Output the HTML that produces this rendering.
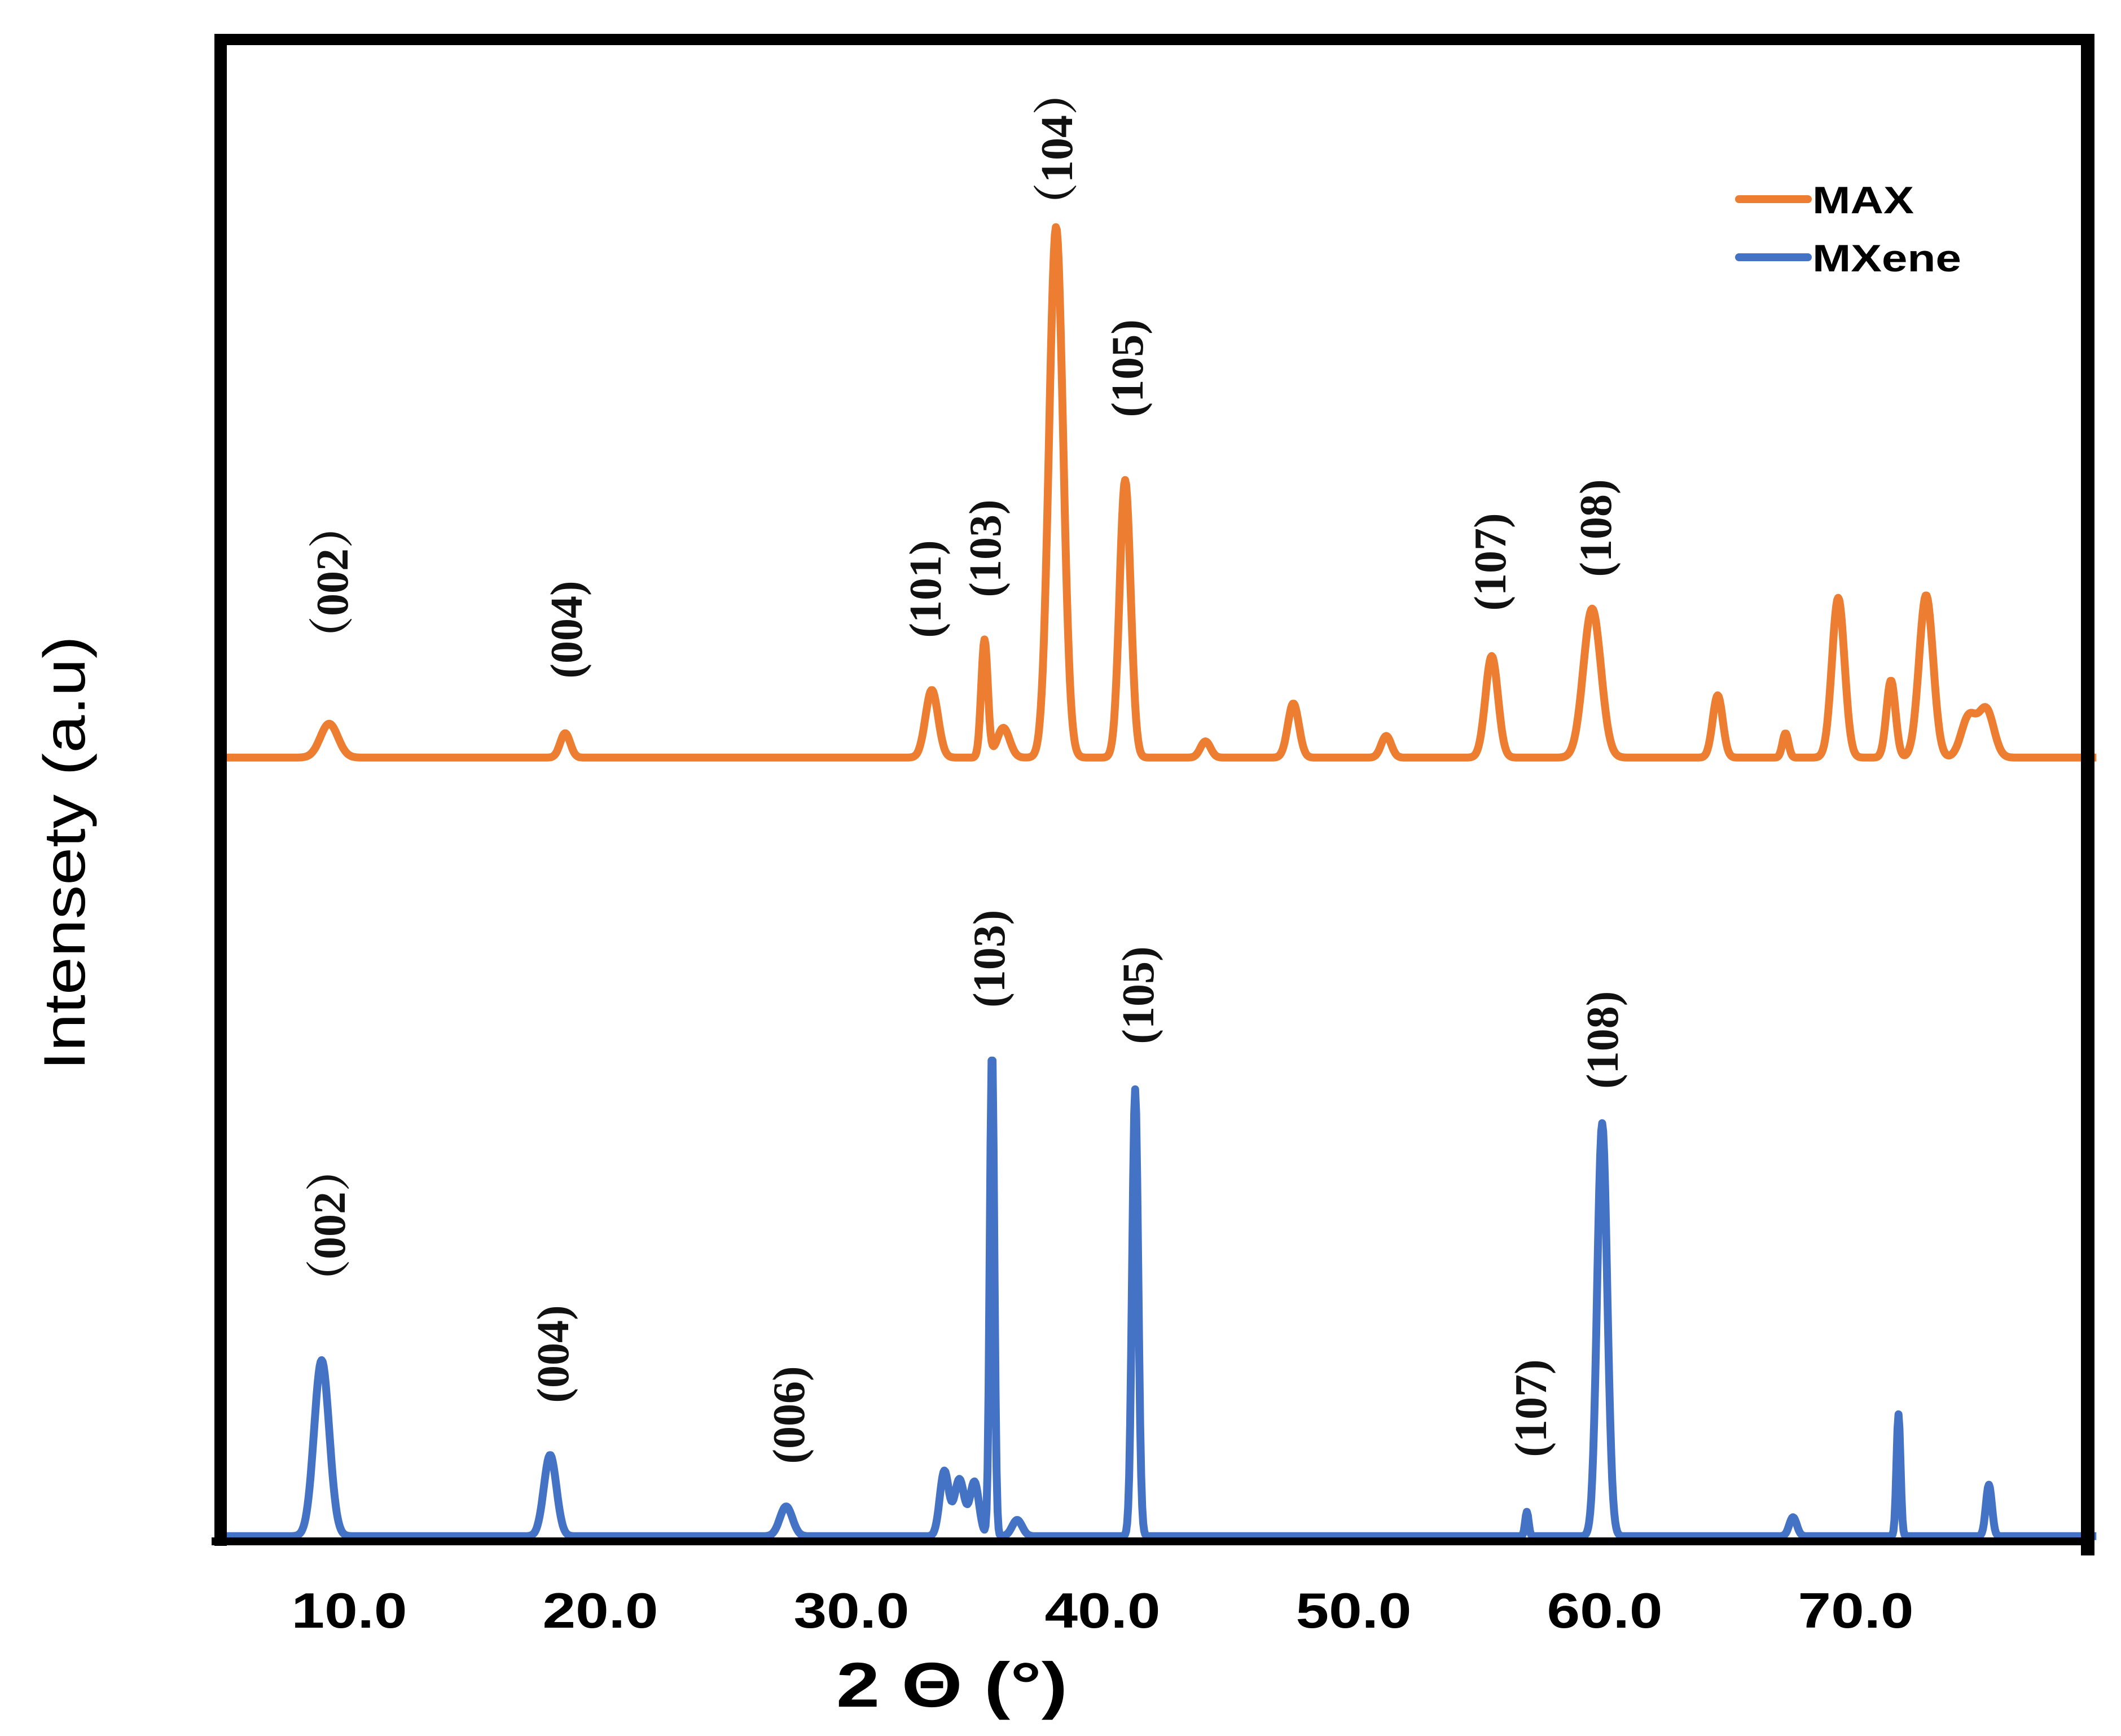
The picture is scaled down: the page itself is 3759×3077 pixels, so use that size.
<!DOCTYPE html>
<html><head><meta charset="utf-8"><style>
html,body{margin:0;padding:0;background:#fff;}
svg{display:block;}
.lbl{font-family:"Liberation Serif","Noto Serif CJK SC",serif;font-weight:bold;font-size:80px;fill:#111;}
.tick{font-family:"Liberation Sans",sans-serif;font-weight:bold;font-size:88px;fill:#000;}
</style></head><body>
<svg id="chart" width="3759" height="3077" viewBox="0 0 3759 3077" xmlns="http://www.w3.org/2000/svg">
<rect x="0" y="0" width="3759" height="3077" fill="#fff"/>
<g id="plot"></g>
<line x1="391" y1="60" x2="391" y2="2740" stroke="#000" stroke-width="22"/>
<line x1="380" y1="70" x2="3712" y2="70" stroke="#000" stroke-width="20"/>
<line x1="3700" y1="60" x2="3700" y2="2757" stroke="#000" stroke-width="24"/>
<line x1="375" y1="2732" x2="3700" y2="2732" stroke="#000" stroke-width="14"/>
<g id="ticks"></g>
<text x="1687" y="3025" text-anchor="middle" textLength="410" lengthAdjust="spacingAndGlyphs" font-family="Liberation Sans,sans-serif" font-weight="bold" font-size="112">2 Θ (°)</text>
<text transform="translate(150,1512) rotate(-90)" text-anchor="middle" textLength="770" lengthAdjust="spacingAndGlyphs" font-family="Liberation Sans,sans-serif" font-size="104">Intensety (a.u)</text>
<line x1="3082" y1="353" x2="3204" y2="353" stroke="#ED7D31" stroke-width="14" stroke-linecap="round"/>
<text x="3212" y="378" textLength="180" lengthAdjust="spacingAndGlyphs" font-family="Liberation Sans,sans-serif" font-weight="bold" font-size="68">MAX</text>
<line x1="3082" y1="456" x2="3204" y2="456" stroke="#4472C4" stroke-width="14" stroke-linecap="round"/>
<text x="3212" y="481" textLength="264" lengthAdjust="spacingAndGlyphs" font-family="Liberation Sans,sans-serif" font-weight="bold" font-size="68">MXene</text>
<g id="labels"></g>
</svg>
<script>
const xTicks=[10,20,30,40,50,60,70];
const xTickLabels=["10.0","20.0","30.0","40.0","50.0","60.0","70.0"];
const maxBaseline=578;
const maxPeakPos=[9.2,18.6,33.2,35.3,36.05,38.15,40.9,44.1,47.6,51.3,55.5,59.5,64.5,67.2,69.3,71.4,72.8,74.5,75.2];
const maxPeakHeight=[25,18,50,87,22,392,205,12,40,16,75,110,46,18,118,57,120,30,35];
const maxPeakWidth=[0.35,0.2,0.25,0.13,0.25,0.28,0.22,0.2,0.22,0.2,0.25,0.35,0.2,0.12,0.25,0.18,0.28,0.3,0.3];
const mxBaseline=3;
const mxPeakPos=[8.9,18.0,27.4,33.7,34.3,34.9,35.6,36.6,41.3,56.9,59.9,67.5,71.7,75.3];
const mxPeakHeight=[130,60,22,48,42,40,360,12,330,18,305,14,90,38];
const mxPeakWidth=[0.3,0.25,0.25,0.18,0.2,0.18,0.09,0.2,0.12,0.07,0.2,0.15,0.08,0.12];
const maxLabels=["（002）","(004)","(101)","(103)","（104）","(105)","(107)","(108)"];
const maxLabelPos=[[245,430],[418,465],[683,435],[727,405],[780,110],[832,272],[1100,415],[1178,390]];
const mxLabels=["（002）","(004)","(006)","(103)","(105)","(107)","(108)"];
const mxLabelPos=[[243,905],[408,1000],[582,1045],[730,708],[840,735],[1130,1040],[1183,768]];

const NS="http://www.w3.org/2000/svg";
function xScale(v){return 619+(v-10)*44.5;}
function yScale(i){return 2730-i*2.4;}
function profile(base,pos,h,w,x){let s=base;for(let k=0;k<pos.length;k++){const d=(x-pos[k])/w[k];s+=h[k]*Math.exp(-0.5*d*d);}return s;}
function drawSeries(base,pos,h,w,color,name){
  let d="";
  for(let x=4.9;x<=79.6;x+=0.04){const y=profile(base,pos,h,w,x);d+=(d?"L":"M")+xScale(x).toFixed(1)+","+yScale(y).toFixed(1);}
  const p=document.createElementNS(NS,"path");
  p.setAttribute("d",d);p.setAttribute("fill","none");p.setAttribute("stroke",color);
  p.setAttribute("stroke-width","14");p.setAttribute("stroke-linejoin","round");
  
  
  document.getElementById("plot").appendChild(p);
}
drawSeries(maxBaseline,maxPeakPos,maxPeakHeight,maxPeakWidth,"#ED7D31","max-series-line");
drawSeries(mxBaseline,mxPeakPos,mxPeakHeight,mxPeakWidth,"#4472C4","mxene-series-line");
const tg=document.getElementById("ticks");
xTicks.forEach((v,i)=>{
  const t=document.createElementNS(NS,"text");
  t.setAttribute("x",xScale(v));t.setAttribute("y",2885);t.setAttribute("text-anchor","middle");t.setAttribute("class","tick");
  t.setAttribute("textLength","205");t.setAttribute("lengthAdjust","spacingAndGlyphs");
  t.textContent=xTickLabels[i];
  
  
  tg.appendChild(t);
});
const lg=document.getElementById("labels");
function addLabels(arr,pos){
  arr.forEach((s,i)=>{
    const t=document.createElementNS(NS,"text");
    const cx=pos[i][0]*2.4, cy=pos[i][1]*2.4;
    t.setAttribute("transform","translate("+(cx+28)+","+cy+") rotate(-90)");
    t.setAttribute("text-anchor","middle");t.setAttribute("class","lbl");
    t.textContent=s;
    
    
    lg.appendChild(t);
  });
}
addLabels(maxLabels,maxLabelPos);
addLabels(mxLabels,mxLabelPos);
</script>
</body></html>
